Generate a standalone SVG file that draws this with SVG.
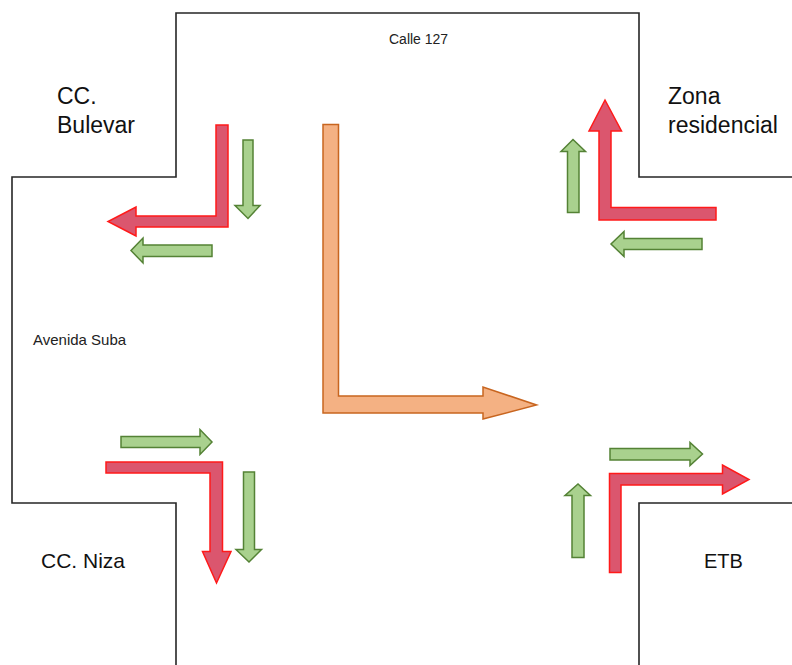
<svg xmlns="http://www.w3.org/2000/svg" width="792" height="665" viewBox="0 0 792 665">
<style>
.road{fill:none;stroke:#262626;stroke-width:1.6}
.lbl{font-family:"Liberation Sans",Arial,sans-serif;fill:#111;font-size:23px}
.sm{font-family:"Liberation Sans",Arial,sans-serif;fill:#222;font-size:14px}
.red{fill:#DB566E;stroke:#FF1A1A;stroke-width:1.5;stroke-linejoin:miter}
.grn{fill:#A9D18E;stroke:#548235;stroke-width:1.5;stroke-linejoin:miter}
.org{fill:#F4B183;stroke:#C8651F;stroke-width:1.5;stroke-linejoin:miter}
</style>
<rect width="792" height="665" fill="#fff"/>
<g id="roads">
<path class="road" d="M176,665 V503 H12 V177 H176 V13 H639 V177 H792"/>
<path class="road" d="M639,665 V503 H792"/>
</g>
<g id="labels">
<text class="sm" x="389" y="44">Calle 127</text>
<text class="sm" x="33" y="345" style="font-size:15px">Avenida Suba</text>
<g id="cc-bulevar"><text class="lbl" x="57" y="104">CC.</text><text class="lbl" x="57" y="133">Bulevar</text></g>
<g id="zona-residencial"><text class="lbl" x="668" y="104">Zona</text><text class="lbl" x="668" y="133">residencial</text></g>
<g id="cc-niza"><text class="lbl" x="41" y="568" style="font-size:21px">CC. Niza</text></g>
<g id="etb"><text class="lbl" x="704" y="568" style="font-size:20px">ETB</text></g>
</g>
<g id="connectors">
<!-- top-left -->
<path class="red" d="M216,125 H228 V227 H136 V236 L108,221.5 L136,207 V216 H216 Z"/>
<path class="grn" d="M243,140 H253 V205.5 H260 L248,218.5 L235,205.5 H243 Z"/>
<path class="grn" d="M212,245 V256.5 H143 V263 L131,250.5 L143,238 V245 Z"/>
<!-- top-right -->
<path class="red" d="M599,220 V131 H589 L605,100 L621.5,131 H611 V207.5 H716 V220 Z"/>
<path class="grn" d="M567.5,212.5 V151.5 H561 L573,139.5 L585.5,151.5 H579 V212.5 Z"/>
<path class="grn" d="M702,238.5 V249.5 H624 V256.5 L611,244 L624,231.5 V238.5 Z"/>
<!-- bottom-left -->
<path class="grn" d="M121,436.5 H200 V429.5 L212,442 L200,454.5 V447.5 H121 Z"/>
<path class="red" d="M106,462 H222.5 V551.5 H231 L216.5,583 L202.5,551.5 H210 V473 H106 Z"/>
<path class="grn" d="M243.5,472 H254.5 V549.5 H261.5 L249,562 L236,549.5 H243.5 Z"/>
<!-- bottom-right -->
<path class="grn" d="M610,448.5 H690 V442.5 L702.5,454 L690,465.5 V460 H610 Z"/>
<path class="red" d="M609.5,572.5 V473.5 H722.5 V465 L749,479.5 L722.5,494 V485 H621 V572.5 Z"/>
<path class="grn" d="M572,557.5 V495.5 H565 L578,484 L590.5,495.5 H584 V557.5 Z"/>
<!-- center orange -->
<path class="org" d="M323,124.5 H338.5 V396 H483 V387 L536.5,405 L483,419 V413 H323 Z"/>
</g>
</svg>
